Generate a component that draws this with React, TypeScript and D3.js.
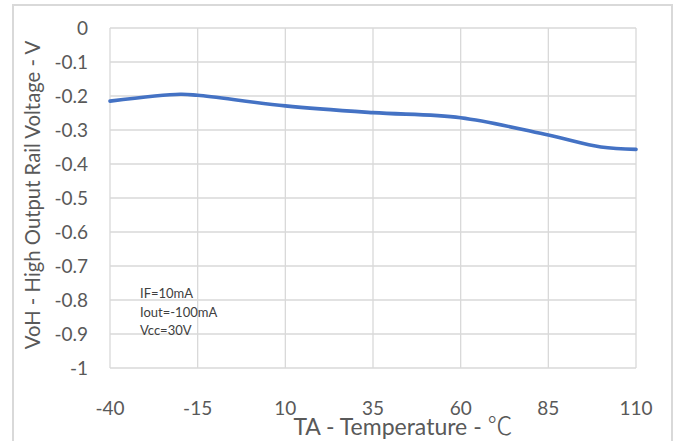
import { useEffect, useRef } from 'react';
import * as d3 from 'd3';

// Temperature (°C) and VoH (V)
const temps = [-40, -20, -15, 10, 35, 60, 85, 100, 110];
const voh = [-0.215, -0.195, -0.198, -0.229, -0.249, -0.264, -0.315, -0.35, -0.357];
const xTicks = [-40, -15, 10, 35, 60, 85, 110];
const yTicks = [0, -0.1, -0.2, -0.3, -0.4, -0.5, -0.6, -0.7, -0.8, -0.9, -1];
const notes = ['IF=10mA', 'Iout=-100mA', 'Vcc=30V'];

export default function App() {
  const ref = useRef<SVGSVGElement>(null);

  useEffect(() => {
    if (!ref.current) return;
    const svg = d3.select(ref.current);
    svg.selectAll('*').remove();

    const width = 678;
    const height = 441;
    const left = 110, right = 636, top = 28, bottom = 368;
    const font = 'Lato, "Open Sans", sans-serif';

    svg.attr('width', width).attr('height', height)
      .style('position', 'absolute').style('left', 0).style('top', 0);

    svg.append('rect').attr('width', width).attr('height', height).attr('fill', '#fff');

    // chart border
    svg.append('rect')
      .attr('x', 13).attr('y', 5)
      .attr('width', 659).attr('height', 445)
      .attr('fill', 'none').attr('stroke', '#d9d9d9').attr('stroke-width', 2);

    const x = d3.scaleLinear().domain([-40, 110]).range([left, right]);
    const y = d3.scaleLinear().domain([-1, 0]).range([bottom, top]);

    // grid
    svg.append('g').selectAll('line').data(yTicks).join('line')
      .attr('x1', left).attr('x2', right)
      .attr('y1', d => y(d)).attr('y2', d => y(d))
      .attr('stroke', '#d9d9d9').attr('stroke-width', 1.3);
    svg.append('g').selectAll('line').data(xTicks).join('line')
      .attr('y1', top).attr('y2', bottom)
      .attr('x1', d => x(d)).attr('x2', d => x(d))
      .attr('stroke', '#d9d9d9').attr('stroke-width', 1.3);

    // tick labels
    svg.append('g').selectAll('text').data(yTicks).join('text')
      .attr('x', 88).attr('y', d => y(d))
      .attr('dy', '0.35em')
      .attr('text-anchor', 'end')
      .attr('font-family', font).attr('font-size', 19)
      .attr('fill', '#595959')
      .text(d => String(d));

    svg.append('g').selectAll('text').data(xTicks).join('text')
      .attr('x', d => x(d)).attr('y', 415)
      .attr('text-anchor', 'middle')
      .attr('font-family', font).attr('font-size', 19)
      .attr('fill', '#595959')
      .text(d => String(d));

    // axis titles
    svg.append('text')
      .attr('transform', `translate(40,${(top + bottom) / 2 - 3}) rotate(-90)`)
      .attr('text-anchor', 'middle')
      .attr('font-family', font).attr('font-size', 20.3)
      .attr('fill', '#595959')
      .text('VoH - High Output Rail Voltage - V');

    const xt = svg.append('text')
      .attr('x', 403).attr('y', 435)
      .attr('text-anchor', 'middle')
      .attr('font-family', font).attr('font-size', 23)
      .attr('fill', '#595959');
    xt.append('tspan').text('TA - Temperature - ');
    xt.append('tspan')
      .attr('font-family', '"Noto Sans CJK SC", sans-serif')
      .attr('font-weight', 300)
      .attr('font-size', 25)
      .text('℃');

    // conditions
    svg.append('g').selectAll('text').data(notes).join('text')
      .attr('x', 140).attr('y', (_, i) => 298 + i * 18.5)
      .attr('font-family', font).attr('font-size', 13)
      .attr('fill', '#404040')
      .text(d => d);

    // curve
    const line = d3.line<number>()
      .x((_, i) => x(temps[i]))
      .y(d => y(d))
      .curve(d3.curveCatmullRom.alpha(0.5));

    svg.append('path')
      .datum(voh)
      .attr('d', line)
      .attr('fill', 'none')
      .attr('stroke', '#4472c4')
      .attr('stroke-width', 3.6)
      .attr('stroke-linecap', 'round');
  }, []);

  return <svg ref={ref}></svg>;
}
